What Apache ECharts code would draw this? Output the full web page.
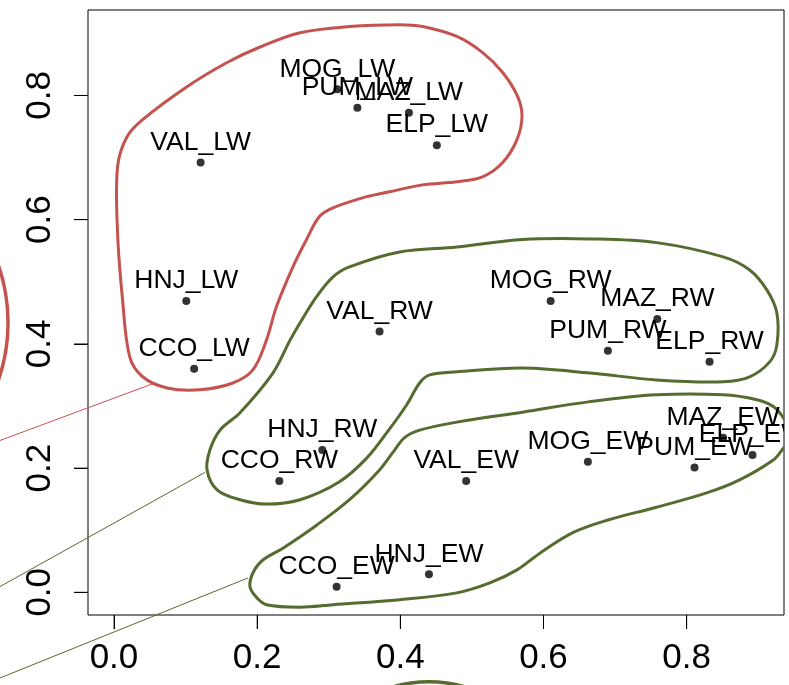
<!DOCTYPE html>
<html><head><meta charset="utf-8">
<script src="https://cdn.jsdelivr.net/npm/echarts@6/dist/echarts.min.js"></script>
<style>html,body{margin:0;padding:0;background:#fff}#c{width:789px;height:685px}</style>
</head><body><div id="c"></div>
<script>
// ---- data (all in data units) ----
const names = ['VAL_LW','HNJ_LW','CCO_LW','MOG_LW','PUM_LW','MAZ_LW','ELP_LW',
               'VAL_RW','HNJ_RW','CCO_RW','MOG_RW','MAZ_RW','PUM_RW','ELP_RW',
               'CCO_EW','HNJ_EW','VAL_EW','MOG_EW','PUM_EW','MAZ_EW','ELP_EW'];
const xs = [0.121,0.101,0.112,0.312,0.340,0.412,0.451,
            0.371,0.291,0.231,0.610,0.759,0.690,0.832,
            0.311,0.440,0.492,0.662,0.811,0.851,0.892];
const ys = [0.692,0.469,0.360,0.810,0.780,0.772,0.720,
            0.420,0.229,0.179,0.469,0.440,0.389,0.371,
            0.009,0.029,0.179,0.210,0.201,0.249,0.221];
const xTicks = [0.0,0.2,0.4,0.6,0.8];
const yTicks = [0.0,0.2,0.4,0.6,0.8];
const xRange = [-0.0363, 0.936];
const yRange = [-0.0366, 0.9376];

const hullLW = [[0.005,0.685],[0.018,0.733],[0.040,0.761],[0.102,0.814],[0.158,0.853],[0.204,0.878],
  [0.260,0.901],[0.329,0.911],[0.399,0.914],[0.431,0.911],[0.479,0.895],[0.515,0.869],[0.543,0.837],
  [0.564,0.798],[0.570,0.766],[0.563,0.729],[0.543,0.692],[0.515,0.669],[0.479,0.661],[0.431,0.656],
  [0.385,0.645],[0.353,0.637],[0.306,0.619],[0.287,0.605],[0.269,0.568],[0.250,0.524],[0.227,0.460],
  [0.213,0.406],[0.194,0.358],[0.166,0.337],[0.120,0.326],[0.074,0.329],[0.040,0.347],[0.022,0.379],
  [0.012,0.471],[0.005,0.579]];
const hullRW = [[0.130,0.197],[0.134,0.229],[0.148,0.261],[0.176,0.289],[0.222,0.353],[0.246,0.406],
  [0.260,0.434],[0.283,0.476],[0.306,0.508],[0.329,0.524],[0.399,0.548],[0.479,0.556],[0.571,0.568],
  [0.665,0.569],[0.758,0.563],[0.851,0.540],[0.888,0.519],[0.912,0.487],[0.926,0.450],[0.926,0.398],
  [0.916,0.371],[0.888,0.347],[0.851,0.339],[0.758,0.342],[0.665,0.353],[0.571,0.361],[0.479,0.355],
  [0.441,0.350],[0.427,0.337],[0.409,0.302],[0.385,0.263],[0.353,0.216],[0.315,0.178],[0.260,0.149],
  [0.213,0.142],[0.176,0.149],[0.144,0.165]];
const hullEW = [[0.190,0.009],[0.194,0.031],[0.208,0.052],[0.236,0.071],[0.283,0.108],[0.329,0.149],
  [0.371,0.197],[0.392,0.229],[0.406,0.249],[0.427,0.261],[0.479,0.274],[0.571,0.290],[0.665,0.307],
  [0.758,0.318],[0.851,0.318],[0.898,0.310],[0.921,0.299],[0.935,0.281],[0.947,0.253],[0.933,0.229],
  [0.921,0.213],[0.874,0.181],[0.828,0.160],[0.758,0.137],[0.689,0.116],[0.641,0.096],[0.595,0.063],
  [0.563,0.036],[0.525,0.015],[0.479,-0.001],[0.399,-0.012],[0.306,-0.020],[0.260,-0.024],[0.213,-0.020],
  [0.199,-0.008]];
const hulls = [hullLW, hullRW, hullEW];
const hullColors = ['#C4534F','#556B2F','#556B2F'];

// leader lines and group rings lying outside the plot region
const leaders = [[[-0.20,0.227],[0.057,0.337]], [[-0.20,-0.017],[0.127,0.193]], [[-0.20,-0.157],[0.187,0.023]]];
const leaderColors = ['#C4534F','#556B2F','#556B2F'];
const rings = [[-0.394,0.434,0.246],[0.440,-0.354,0.182]]; // cx, cy, radius (x units)
const ringColors = ['#C4534F','#556B2F'];

const TICK_LEN = 14;
const FONT = '"Liberation Sans", Arial, sans-serif';
const chart = echarts.init(document.getElementById('c'));
chart.setOption({
  animation:false,
  backgroundColor:'#fff',
  grid:{left:88,top:10,width:696,height:605,show:true,borderColor:'#000',borderWidth:1,backgroundColor:'transparent'},
  // axes pushed TICK_LEN away from the frame, with ticks pointing back to the frame
  xAxis:{type:'value',min:xRange[0],max:xRange[1],offset:TICK_LEN,
    axisLine:{show:false,onZero:false},splitLine:{show:false},
    axisTick:{show:true,inside:true,length:TICK_LEN,lineStyle:{color:'#000',width:1},customValues:xTicks},
    axisLabel:{customValues:xTicks,formatter:v=>v.toFixed(1),fontSize:35,color:'#000',fontFamily:FONT,margin:12}},
  yAxis:{type:'value',min:yRange[0],max:yRange[1],offset:TICK_LEN,
    axisLine:{show:false,onZero:false},splitLine:{show:false},
    axisTick:{show:true,inside:true,length:TICK_LEN,lineStyle:{color:'#000',width:1},customValues:yTicks},
    axisLabel:{customValues:yTicks,formatter:v=>v.toFixed(1),fontSize:35,color:'#000',fontFamily:FONT,rotate:90,margin:16}},
  series:[
    {type:'custom',clip:true,silent:true,z:3,
     data:hulls.map((h,i)=>[h[0][0],h[0][1],i]),
     renderItem:(params,api)=>{
       const h = hulls[params.dataIndex];
       return {type:'polygon',shape:{points:h.map(p=>api.coord(p)),smooth:0.35},
         style:{fill:'none',stroke:hullColors[params.dataIndex],lineWidth:3}};
     }},
    {type:'custom',clip:false,silent:true,z:3,
     data:leaders.map((l,i)=>[l[1][0],l[1][1],i]),
     renderItem:(params,api)=>{
       const l = leaders[params.dataIndex];
       const a = api.coord(l[0]), b = api.coord(l[1]);
       return {type:'line',shape:{x1:a[0],y1:a[1],x2:b[0],y2:b[1]},
         style:{stroke:leaderColors[params.dataIndex],lineWidth:1}};
     }},
    {type:'custom',clip:false,silent:true,z:3,
     data:rings.map((r,i)=>[r[0],r[1],i]),
     renderItem:(params,api)=>{
       const r = rings[params.dataIndex];
       const c = api.coord([r[0],r[1]]);
       const rad = api.size([r[2],0])[0];
       return {type:'circle',shape:{cx:c[0],cy:c[1],r:rad},
         style:{fill:'none',stroke:ringColors[params.dataIndex],lineWidth:3.5}};
     }},
    // tick marks also as thin rect symbols placed on the frame edges
    {type:'scatter',clip:false,silent:true,z:6,symbol:'rect',
     symbolSize:[1,TICK_LEN],symbolOffset:[0,TICK_LEN/2],itemStyle:{color:'#000'},
     data:xTicks.map(v=>[v,yRange[0]])},
    {type:'scatter',clip:false,silent:true,z:6,symbol:'rect',
     symbolSize:[TICK_LEN,1],symbolOffset:[-TICK_LEN/2,0],itemStyle:{color:'#000'},
     data:yTicks.map(v=>[xRange[0],v])},
    {type:'scatter',symbol:'circle',symbolSize:8,itemStyle:{color:'#000'},z:4,silent:true,
     data:xs.map((x,i)=>[x,ys[i]])},
    {type:'custom',clip:true,silent:true,z:5,
     data:xs.map((x,i)=>[x,ys[i]]),
     renderItem:(params,api)=>{
       const p = api.coord([api.value(0),api.value(1)]);
       return {type:'text',x:p[0],y:p[1]-20,
         style:{text:names[params.dataIndex],fill:'#000',font:'26.5px '+FONT,align:'center',verticalAlign:'middle'}};
     }}
  ]
});
</script></body></html>
